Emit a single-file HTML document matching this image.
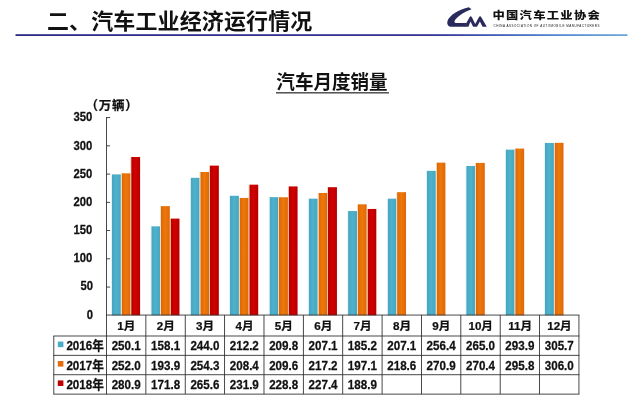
<!DOCTYPE html>
<html lang="zh"><head><meta charset="utf-8"><title>汽车月度销量</title>
<style>html,body{margin:0;padding:0;background:#fff}body{width:640px;height:404px;overflow:hidden}svg{display:block}text{font-family:"Liberation Sans","Noto Sans CJK SC",sans-serif;font-weight:bold;fill:#111}.n{stroke:#111;stroke-width:.25px}</style></head><body>
<svg width="640" height="404" viewBox="0 0 640 404">
<defs><linearGradient id="hl" x1="0" x2="1" y1="0" y2="0"><stop offset="0" stop-color="#2b2b85"/><stop offset="0.68" stop-color="#353596"/><stop offset="0.8" stop-color="#4264ba"/><stop offset="0.9" stop-color="#5790d4"/><stop offset="1" stop-color="#6fa8dc"/></linearGradient><linearGradient id="g0" x1="0" x2="1" y1="0" y2="0"><stop offset="0" stop-color="#d4ecf3"/><stop offset="0.07" stop-color="#d4ecf3"/><stop offset="0.11" stop-color="#47a6c1"/><stop offset="0.5" stop-color="#4fb1cb"/><stop offset="1" stop-color="#47a6c1"/></linearGradient><linearGradient id="g1" x1="0" x2="1" y1="0" y2="0"><stop offset="0" stop-color="#f3d3a8"/><stop offset="0.07" stop-color="#f3d3a8"/><stop offset="0.11" stop-color="#dd680b"/><stop offset="0.5" stop-color="#ee7808"/><stop offset="1" stop-color="#dd680b"/></linearGradient><linearGradient id="g2" x1="0" x2="1" y1="0" y2="0"><stop offset="0" stop-color="#f3b08a"/><stop offset="0.07" stop-color="#f3b08a"/><stop offset="0.11" stop-color="#b60000"/><stop offset="0.5" stop-color="#d20000"/><stop offset="1" stop-color="#b60000"/></linearGradient></defs>
<rect width="640" height="404" fill="#fff"/>
<text transform="translate(47 29.1) scale(1 0.97)" font-size="22" letter-spacing="0.14" fill="#0a0a0a">二、汽车工业经济运行情况</text>
<rect x="15.5" y="34.2" width="612" height="1.8" fill="url(#hl)"/>
<g fill="#2b2a5c"><path d="M468.8 7.2 L471.6 9.2 C465 11.6 458.3 15.6 455.4 19.6 C454 21.6 454.2 23.1 456.6 23.1 L466.6 23.1 L464.7 26.8 L452 26.8 C448.3 26.8 446.6 24.5 447.5 21 C449.5 15 459 9.3 468.8 7.2 Z"/><path d="M464.3 26.8 L469.5 17.2 Q470.7 15.4 471.9 17.2 L475.2 24 L478.9 17.2 Q480.1 15.4 481.3 17.2 L486.8 26.8 L482.5 26.8 L479.9 21.4 L477 26.8 L473.1 26.8 L470.5 21.4 L468.4 26.8 Z"/></g>
<text transform="translate(492.4 18.9) scale(1.12 0.95)" font-size="11" letter-spacing="1.15" fill="#1a1a26" style="font-weight:900">中国汽车工业协会</text>
<text x="493.5" y="26.9" font-size="3" fill="#adadad" style="font-weight:normal" textLength="106" lengthAdjust="spacing">CHINA ASSOCIATION OF AUTOMOBILE MANUFACTURERS</text>
<text transform="translate(332 89.1) scale(0.995 1.02)" font-size="18.67" text-anchor="middle">汽车月度销量</text>
<rect x="276" y="92.3" width="113" height="1.1" fill="#111"/>
<text x="85.6" y="110.2" font-size="12.5" letter-spacing="0.7" class="n">（万辆）</text>
<text transform="translate(93.10 318.50) scale(0.940 1.085)" font-size="12" text-anchor="end" class="n">0</text>
<text transform="translate(93.10 290.26) scale(0.940 1.085)" font-size="12" text-anchor="end" class="n">50</text>
<rect x="106.50" y="286.61" width="3.6" height="0.9" fill="#333"/>
<text transform="translate(92.20 262.01) scale(0.940 1.085)" font-size="12" text-anchor="end" class="n">100</text>
<rect x="106.50" y="258.36" width="3.6" height="0.9" fill="#333"/>
<text transform="translate(92.20 233.77) scale(0.940 1.085)" font-size="12" text-anchor="end" class="n">150</text>
<rect x="106.50" y="230.12" width="3.6" height="0.9" fill="#333"/>
<text transform="translate(92.20 205.53) scale(0.940 1.085)" font-size="12" text-anchor="end" class="n">200</text>
<rect x="106.50" y="201.88" width="3.6" height="0.9" fill="#333"/>
<text transform="translate(92.20 177.79) scale(0.940 1.085)" font-size="12" text-anchor="end" class="n">250</text>
<rect x="106.50" y="173.64" width="3.6" height="0.9" fill="#333"/>
<text transform="translate(92.20 149.54) scale(0.940 1.085)" font-size="12" text-anchor="end" class="n">300</text>
<rect x="106.50" y="145.39" width="3.6" height="0.9" fill="#333"/>
<text transform="translate(92.20 121.30) scale(0.940 1.085)" font-size="12" text-anchor="end" class="n">350</text>
<rect x="106.50" y="117.15" width="3.6" height="0.9" fill="#333"/>
<rect x="111.30" y="174.38" width="9.50" height="140.92" fill="url(#g0)"/>
<rect x="120.95" y="173.31" width="9.50" height="141.99" fill="url(#g1)"/>
<rect x="130.60" y="156.98" width="9.50" height="158.32" fill="url(#g2)"/>
<rect x="150.67" y="226.35" width="9.50" height="88.95" fill="url(#g0)"/>
<rect x="160.32" y="206.12" width="9.50" height="109.18" fill="url(#g1)"/>
<rect x="169.97" y="218.61" width="9.50" height="96.69" fill="url(#g2)"/>
<rect x="190.04" y="177.82" width="9.50" height="137.48" fill="url(#g0)"/>
<rect x="199.69" y="172.01" width="9.50" height="143.29" fill="url(#g1)"/>
<rect x="209.34" y="165.62" width="9.50" height="149.68" fill="url(#g2)"/>
<rect x="229.41" y="195.79" width="9.50" height="119.51" fill="url(#g0)"/>
<rect x="239.06" y="197.93" width="9.50" height="117.37" fill="url(#g1)"/>
<rect x="248.71" y="184.66" width="9.50" height="130.64" fill="url(#g2)"/>
<rect x="268.78" y="197.14" width="9.50" height="118.16" fill="url(#g0)"/>
<rect x="278.43" y="197.26" width="9.50" height="118.04" fill="url(#g1)"/>
<rect x="288.08" y="186.41" width="9.50" height="128.89" fill="url(#g2)"/>
<rect x="308.15" y="198.67" width="9.50" height="116.63" fill="url(#g0)"/>
<rect x="317.80" y="192.96" width="9.50" height="122.34" fill="url(#g1)"/>
<rect x="327.45" y="187.20" width="9.50" height="128.10" fill="url(#g2)"/>
<rect x="347.52" y="211.04" width="9.50" height="104.26" fill="url(#g0)"/>
<rect x="357.17" y="204.32" width="9.50" height="110.98" fill="url(#g1)"/>
<rect x="366.82" y="208.95" width="9.50" height="106.35" fill="url(#g2)"/>
<rect x="386.89" y="198.67" width="9.50" height="116.63" fill="url(#g0)"/>
<rect x="396.54" y="192.17" width="9.50" height="123.13" fill="url(#g1)"/>
<rect x="426.26" y="170.82" width="9.50" height="144.48" fill="url(#g0)"/>
<rect x="435.91" y="162.63" width="9.50" height="152.67" fill="url(#g1)"/>
<rect x="465.63" y="165.96" width="9.50" height="149.34" fill="url(#g0)"/>
<rect x="475.28" y="162.91" width="9.50" height="152.39" fill="url(#g1)"/>
<rect x="505.00" y="149.64" width="9.50" height="165.66" fill="url(#g0)"/>
<rect x="514.65" y="148.57" width="9.50" height="166.73" fill="url(#g1)"/>
<rect x="544.37" y="142.97" width="9.50" height="172.33" fill="url(#g0)"/>
<rect x="554.02" y="142.80" width="9.50" height="172.50" fill="url(#g1)"/>
<rect x="106.08" y="117.15" width="0.85" height="277.38" fill="#2a2a2a"/>
<rect x="106.08" y="314.62" width="473.29" height="0.85" fill="#2a2a2a"/>
<rect x="53.38" y="335.57" width="525.99" height="0.85" fill="#2a2a2a"/>
<rect x="53.38" y="354.88" width="525.99" height="0.85" fill="#2a2a2a"/>
<rect x="53.38" y="374.32" width="525.99" height="0.85" fill="#2a2a2a"/>
<rect x="53.38" y="393.68" width="525.99" height="0.85" fill="#2a2a2a"/>
<rect x="53.38" y="336.00" width="0.85" height="58.10" fill="#2a2a2a"/>
<rect x="145.44" y="315.05" width="0.85" height="79.05" fill="#2a2a2a"/>
<rect x="184.81" y="315.05" width="0.85" height="79.05" fill="#2a2a2a"/>
<rect x="224.18" y="315.05" width="0.85" height="79.05" fill="#2a2a2a"/>
<rect x="263.56" y="315.05" width="0.85" height="79.05" fill="#2a2a2a"/>
<rect x="302.93" y="315.05" width="0.85" height="79.05" fill="#2a2a2a"/>
<rect x="342.29" y="315.05" width="0.85" height="79.05" fill="#2a2a2a"/>
<rect x="381.66" y="315.05" width="0.85" height="79.05" fill="#2a2a2a"/>
<rect x="421.03" y="315.05" width="0.85" height="79.05" fill="#2a2a2a"/>
<rect x="460.40" y="315.05" width="0.85" height="79.05" fill="#2a2a2a"/>
<rect x="499.77" y="315.05" width="0.85" height="79.05" fill="#2a2a2a"/>
<rect x="539.14" y="315.05" width="0.85" height="79.05" fill="#2a2a2a"/>
<rect x="578.51" y="315.05" width="0.85" height="79.05" fill="#2a2a2a"/>
<text transform="translate(126.39 330.10) scale(0.970 0.970)" font-size="12" text-anchor="middle" class="n">1月</text>
<text transform="translate(126.19 350.15) scale(0.970 1.085)" font-size="12" text-anchor="middle" class="n">250.1</text>
<text transform="translate(126.19 369.60) scale(0.970 1.085)" font-size="12" text-anchor="middle" class="n">252.0</text>
<text transform="translate(126.19 389.00) scale(0.970 1.085)" font-size="12" text-anchor="middle" class="n">280.9</text>
<text transform="translate(165.75 330.10) scale(0.970 0.970)" font-size="12" text-anchor="middle" class="n">2月</text>
<text transform="translate(165.56 350.15) scale(0.970 1.085)" font-size="12" text-anchor="middle" class="n">158.1</text>
<text transform="translate(165.56 369.60) scale(0.970 1.085)" font-size="12" text-anchor="middle" class="n">193.9</text>
<text transform="translate(165.56 389.00) scale(0.970 1.085)" font-size="12" text-anchor="middle" class="n">171.8</text>
<text transform="translate(205.12 330.10) scale(0.970 0.970)" font-size="12" text-anchor="middle" class="n">3月</text>
<text transform="translate(204.93 350.15) scale(0.970 1.085)" font-size="12" text-anchor="middle" class="n">244.0</text>
<text transform="translate(204.93 369.60) scale(0.970 1.085)" font-size="12" text-anchor="middle" class="n">254.3</text>
<text transform="translate(204.93 389.00) scale(0.970 1.085)" font-size="12" text-anchor="middle" class="n">265.6</text>
<text transform="translate(244.49 330.10) scale(0.970 0.970)" font-size="12" text-anchor="middle" class="n">4月</text>
<text transform="translate(244.29 350.15) scale(0.970 1.085)" font-size="12" text-anchor="middle" class="n">212.2</text>
<text transform="translate(244.29 369.60) scale(0.970 1.085)" font-size="12" text-anchor="middle" class="n">208.4</text>
<text transform="translate(244.29 389.00) scale(0.970 1.085)" font-size="12" text-anchor="middle" class="n">231.9</text>
<text transform="translate(283.87 330.10) scale(0.970 0.970)" font-size="12" text-anchor="middle" class="n">5月</text>
<text transform="translate(283.67 350.15) scale(0.970 1.085)" font-size="12" text-anchor="middle" class="n">209.8</text>
<text transform="translate(283.67 369.60) scale(0.970 1.085)" font-size="12" text-anchor="middle" class="n">209.6</text>
<text transform="translate(283.67 389.00) scale(0.970 1.085)" font-size="12" text-anchor="middle" class="n">228.8</text>
<text transform="translate(323.24 330.10) scale(0.970 0.970)" font-size="12" text-anchor="middle" class="n">6月</text>
<text transform="translate(323.04 350.15) scale(0.970 1.085)" font-size="12" text-anchor="middle" class="n">207.1</text>
<text transform="translate(323.04 369.60) scale(0.970 1.085)" font-size="12" text-anchor="middle" class="n">217.2</text>
<text transform="translate(323.04 389.00) scale(0.970 1.085)" font-size="12" text-anchor="middle" class="n">227.4</text>
<text transform="translate(362.60 330.10) scale(0.970 0.970)" font-size="12" text-anchor="middle" class="n">7月</text>
<text transform="translate(362.40 350.15) scale(0.970 1.085)" font-size="12" text-anchor="middle" class="n">185.2</text>
<text transform="translate(362.40 369.60) scale(0.970 1.085)" font-size="12" text-anchor="middle" class="n">197.1</text>
<text transform="translate(362.40 389.00) scale(0.970 1.085)" font-size="12" text-anchor="middle" class="n">188.9</text>
<text transform="translate(401.97 330.10) scale(0.970 0.970)" font-size="12" text-anchor="middle" class="n">8月</text>
<text transform="translate(401.77 350.15) scale(0.970 1.085)" font-size="12" text-anchor="middle" class="n">207.1</text>
<text transform="translate(401.77 369.60) scale(0.970 1.085)" font-size="12" text-anchor="middle" class="n">218.6</text>
<text transform="translate(441.34 330.10) scale(0.970 0.970)" font-size="12" text-anchor="middle" class="n">9月</text>
<text transform="translate(441.14 350.15) scale(0.970 1.085)" font-size="12" text-anchor="middle" class="n">256.4</text>
<text transform="translate(441.14 369.60) scale(0.970 1.085)" font-size="12" text-anchor="middle" class="n">270.9</text>
<text transform="translate(480.71 330.10) scale(0.970 0.970)" font-size="12" text-anchor="middle" class="n">10月</text>
<text transform="translate(480.51 350.15) scale(0.970 1.085)" font-size="12" text-anchor="middle" class="n">265.0</text>
<text transform="translate(480.51 369.60) scale(0.970 1.085)" font-size="12" text-anchor="middle" class="n">270.4</text>
<text transform="translate(520.09 330.10) scale(0.970 0.970)" font-size="12" text-anchor="middle" class="n">11月</text>
<text transform="translate(519.88 350.15) scale(0.970 1.085)" font-size="12" text-anchor="middle" class="n">293.9</text>
<text transform="translate(519.88 369.60) scale(0.970 1.085)" font-size="12" text-anchor="middle" class="n">295.8</text>
<text transform="translate(559.45 330.10) scale(0.970 0.970)" font-size="12" text-anchor="middle" class="n">12月</text>
<text transform="translate(559.25 350.15) scale(0.970 1.085)" font-size="12" text-anchor="middle" class="n">305.7</text>
<text transform="translate(559.25 369.60) scale(0.970 1.085)" font-size="12" text-anchor="middle" class="n">306.0</text>
<rect x="57.8" y="341.55" width="5.6" height="5.6" fill="#4bacc6"/>
<text transform="translate(66.40 350.05) scale(0.970 1.060)" font-size="12" text-anchor="start" class="n">2016年</text>
<rect x="57.8" y="361.00" width="5.6" height="5.6" fill="#e46c0a"/>
<text transform="translate(66.40 369.50) scale(0.970 1.060)" font-size="12" text-anchor="start" class="n">2017年</text>
<rect x="57.8" y="380.40" width="5.6" height="5.6" fill="#c00000"/>
<text transform="translate(66.40 388.90) scale(0.970 1.060)" font-size="12" text-anchor="start" class="n">2018年</text>
</svg></body></html>
